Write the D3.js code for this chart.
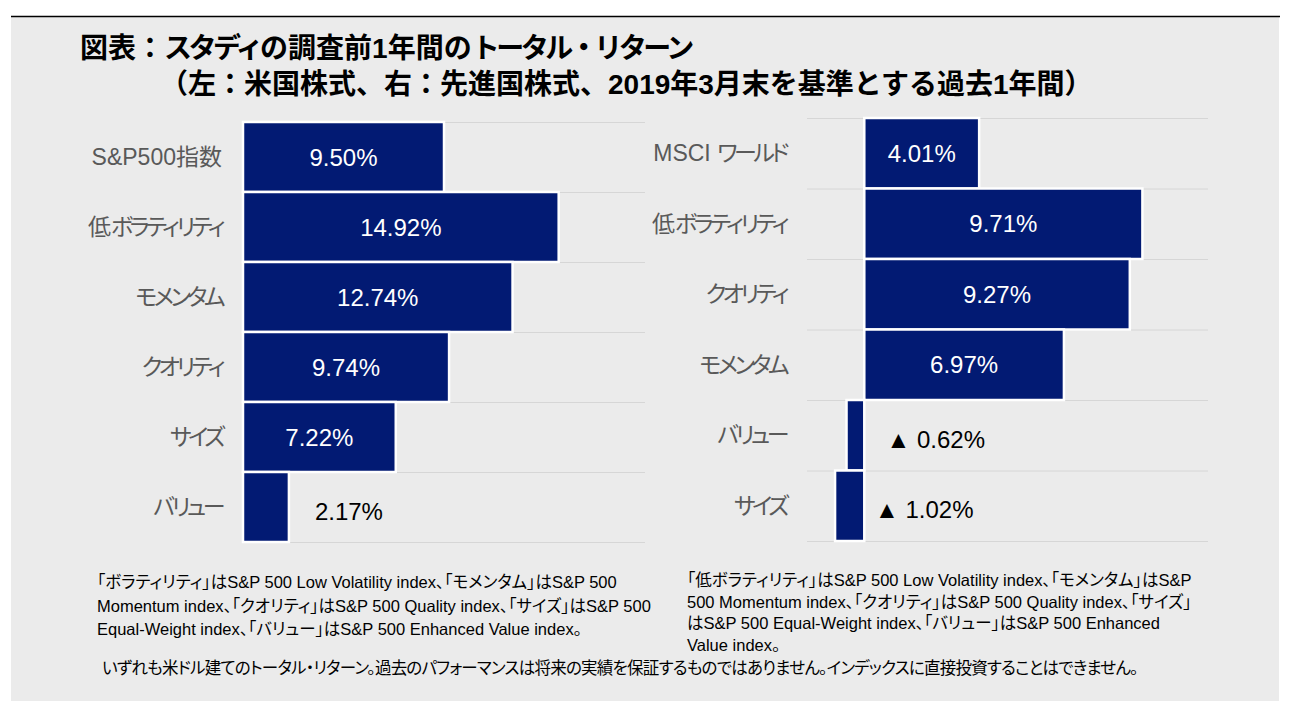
<!DOCTYPE html>
<html><head><meta charset="utf-8">
<script src="https://cdn.jsdelivr.net/npm/d3@7"></script>
<style>
html,body{margin:0;padding:0;background:#fff;}
svg text{font-family:"Liberation Sans",Arial,"Noto Sans CJK JP",sans-serif;font-feature-settings:"palt";}
svg text.title{font-feature-settings:normal;}
</style></head>
<body><svg id="c" width="1295" height="720"></svg>
<script>
const titleLines = ["図表：スタディの調査前1年間のトータル・リターン","（左：米国株式、右：先進国株式、2019年3月末を基準とする過去1年間）"];
const leftCategories = ["S&P500指数","低ボラティリティ","モメンタム","クオリティ","サイズ","バリュー"];
const leftValues = [9.50, 14.92, 12.74, 9.74, 7.22, 2.17];
const rightCategories = ["MSCI ワールド","低ボラティリティ","クオリティ","モメンタム","バリュー","サイズ"];
const rightValues = [4.01, 9.71, 9.27, 6.97, -0.62, -1.02];
const leftNotes = ["「ボラティリティ」はS&P 500 Low Volatility index、「モメンタム」はS&P 500","Momentum index、「クオリティ」はS&P 500 Quality index、「サイズ」はS&P 500","Equal-Weight index、「バリュー」はS&P 500 Enhanced Value index。"];
const rightNotes = ["「低ボラティリティ」はS&P 500 Low Volatility index、「モメンタム」はS&P","500 Momentum index、「クオリティ」はS&P 500 Quality index、「サイズ」","はS&P 500 Equal-Weight index、「バリュー」はS&P 500 Enhanced","Value index。"];
const bottomNote = "いずれも米ドル建てのトータル・リターン。過去のパフォーマンスは将来の実績を保証するものではありません。インデックスに直接投資することはできません。";

const svg = d3.select("#c");
const NAVY = "#021a73";

svg.append("rect").attr("x",11).attr("y",17).attr("width",1268).attr("height",684).attr("fill","#ebebeb");
svg.append("line").attr("x1",11).attr("x2",1280).attr("y1",16.5).attr("y2",16.5).attr("stroke","#000").attr("stroke-width",1.5);

// split text into runs so katakana can be set tighter (narrow source font)
function runs(s){
  const out=[]; let cur=null;
  for(const ch of s){
    const k = /[\u30A0-\u30FF]/.test(ch);
    if(!cur || cur.k!==k){ cur={k,t:""}; out.push(cur); }
    cur.t+=ch;
  }
  return out;
}
function fillRuns(sel, ls){
  sel.each(function(d){
    const t=d3.select(this);
    runs(typeof d==="string"?d:d.c).forEach(r=>{
      t.append("tspan").attr("letter-spacing",r.k?ls:0).text(r.t);
    });
  });
}

const tt = svg.selectAll("text.title").data(titleLines).join("text").attr("class","title")
  .attr("x",(d,i)=>i===0?80:160).attr("y",(d,i)=>i===0?48:84)
  .attr("dominant-baseline","central")
  .attr("font-size",28).attr("font-weight","bold").attr("fill","#000");
fillRuns(tt, -3.5);

function panel(cats, vals, opt){
  const g = svg.append("g");
  const x = d3.scaleLinear().domain(opt.domain).range(opt.xr);
  const y = d3.scaleBand().domain(cats).range(opt.yr).paddingInner(0).paddingOuter(0);
  const bounds = cats.map(c=>y(c)).concat([opt.yr[1]]);
  g.selectAll("line.grid").data(bounds).join("line")
    .attr("x1",opt.xr[0]).attr("x2",opt.xr[1])
    .attr("y1",d=>d+0.5).attr("y2",d=>d+0.5)
    .attr("stroke","#d6d6d6").attr("stroke-width",1);
  const data = cats.map((c,i)=>({c, v:vals[i]}));
  g.selectAll("rect.bar").data(data).join("rect")
    .attr("x",d=>x(Math.min(0,d.v))).attr("width",d=>Math.abs(x(d.v)-x(0)))
    .attr("y",d=>y(d.c)).attr("height",y.bandwidth())
    .attr("fill",NAVY).attr("stroke","#fff").attr("stroke-width",2.5);
  const cat = g.selectAll("text.cat").data(data).join("text")
    .attr("x",opt.labelX).attr("y",d=>y(d.c)+y.bandwidth()/2)
    .attr("text-anchor","end").attr("dominant-baseline","central")
    .attr("font-size",23).attr("fill","#595959");
  fillRuns(cat, -3.5);
  const fmt = v => (v<0?"▲ ":"") + Math.abs(v).toFixed(2) + "%";
  g.selectAll("text.val").data(data).join("text")
    .each(function(d){
      const w = Math.abs(x(d.v)-x(0));
      const t = d3.select(this);
      const cy = y(d.c)+y.bandwidth()/2;
      if (w > 80){
        t.attr("x",(x(d.v)+x(0))/2).attr("text-anchor","middle").attr("fill","#fff").attr("y",cy);
      } else {
        t.attr("x",x(d.v)+opt.outOffset).attr("text-anchor","start").attr("fill","#000").attr("y",cy+4);
      }
    })
    .attr("dominant-baseline","central").attr("font-size",24).text(d=>fmt(d.v));
}

panel(leftCategories, leftValues, {domain:[0,19], xr:[243,645], yr:[122,542], labelX:222, outOffset:26});
panel(rightCategories, rightValues, {domain:[-2,12], xr:[807,1208], yr:[118,541], labelX:786, outOffset:40});

svg.selectAll("text.ln").data(leftNotes).join("text").attr("class","ln")
  .attr("x",97).attr("y",(d,i)=>582+i*23.5).attr("dominant-baseline","central")
  .attr("font-size",16.5).attr("fill","#000").text(d=>d);
svg.selectAll("text.rn").data(rightNotes).join("text").attr("class","rn")
  .attr("x",687).attr("y",(d,i)=>580+i*21.5).attr("dominant-baseline","central")
  .attr("font-size",16.5).attr("fill","#000").text(d=>d);
svg.append("text").attr("x",102).attr("y",668).attr("dominant-baseline","central")
  .attr("font-size",16.5).attr("letter-spacing",-0.75).attr("fill","#000").text(bottomNote);
</script></body></html>
